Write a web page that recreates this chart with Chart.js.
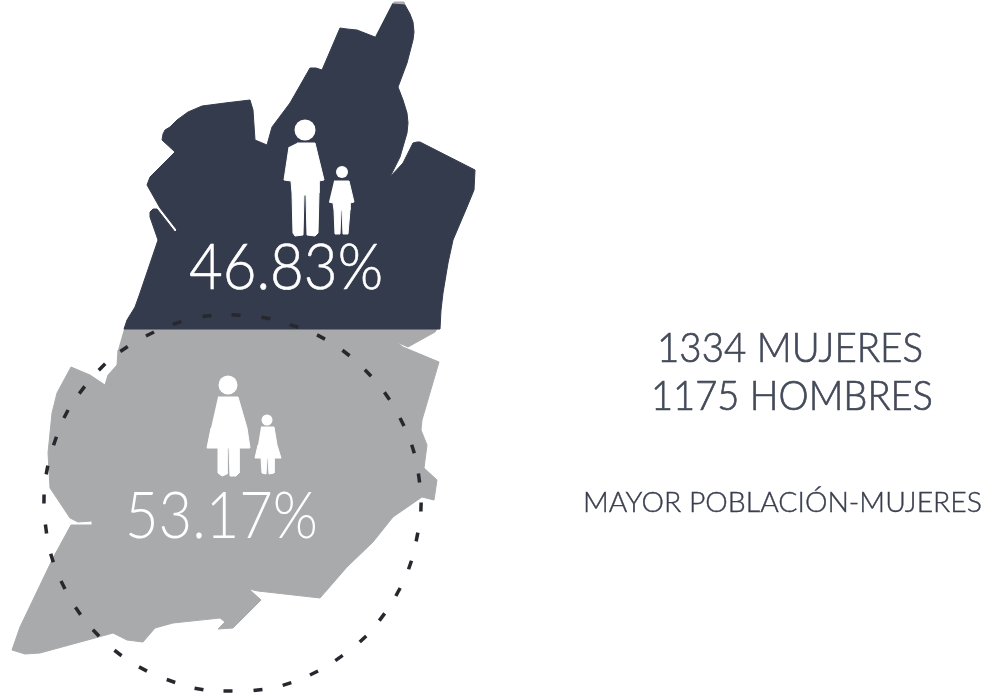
<!DOCTYPE html>
<html lang="es">
<head>
<meta charset="utf-8">
<title>Población por sexo</title>
<script src="https://cdn.jsdelivr.net/npm/chart.js@4"></script>
<style>
  html, body { margin: 0; background: #ffffff; }
  canvas { display: block; }
</style>
</head>
<body>
<canvas id="mapaChart" width="988" height="696"></canvas>
<script>
// Outlines, in picture pixels (scales run 0-988 / 0-696)
const hombresZona = [
  [392,4],[405,5],[410,14],[413,22],[414,32],[413,40],[407,63],[398,87],[403,100],[407,113],[408,123],[407,133],[400,157],[390,177],
  [403,163],[413,143],[417,142],[420,142],[475,170],[474,190],[467,207],[453,240],[448,263],[443,293],
  [441,310],[440,329],[124,329],[127,320],[135,307],[140,293],[158,240],[150,217],[150,212],[153,209],
  [157,209],[175,232],[177,230],[160,208],[147,185],[150,177],[175,152],[162,140],[163,134],[165,130],
  [170,127],[177,120],[188,112],[202,106],[225,103],[250,100],[253,110],[255,140],[267,145],[272,127],[290,103],[310,68],
  [316,68],[322,70],[340,28],[347,29],[357,30],[375,37]
];
const mujeresZona = [
  [124,329],[437,329],[435,332],[408,347],[397,342],[403,347],[439,362],[422,420],[421,430],
  [427,445],[424,468],[437,480],[434,500],[422,497],[393,517],[373,542],[347,567],[320,598],
  [258,591],[249,589],[261,600],[233,628],[218,629],[225,622],[220,618],[173,623],[155,628],
  [143,642],[127,640],[113,633],[95,638],[40,653],[25,654],[12,650],[20,627],[53,558],[71,525],[92,525],
  [92,521],[78,522],[70,518],[60,503],[50,488],[48,453],[52,413],[57,393],[71,367],[90,375],
  [105,385],[108,375],[117,365],[118,350]
];
const puntaGris = [[392,4],[405,5],[404,2],[394,2]];

// Dashes of the circle, clockwise from the top
const circuloTrazos = [
  [207,316],[236,315],[266,318],[294,326],[321,337],[346,353],[368,373],[387,396],[402,422],[413,449],
  [419,478],[421,507],[417,537],[410,565],[398,592],[382,617],[363,639],[339,658],[314,673],[287,684],
  [258,690],[228,691],[199,689],[171,681],[143,669],[118,653],[96,633],[78,611],[63,585],[52,558],
  [46,529],[44,499],[47,470],[55,441],[66,414],[82,390],[102,367],[124,349],[150,334],[177,323]
];

// Figures
const adultoH = [
  [297,143],[315,143],[324,180],[319,181],[319,193],[318,233],[315,236],[307,235],[306,195],[304,195],
  [303,235],[295,236],[293,233],[292,193],[291,181],[284,180],[289,147]
];
const ninoH = [
  [334,181],[349,181],[354,202],[350,203],[350,210],[348,234],[343,234],[342,210],[341,210],[340,234],
  [335,234],[334,210],[333,203],[329,202]
];
const adultaM = [
  [218,397],[238,397],[247,428],[250,448],[239,448],[239,473],[236,476],[230,476],[229,448],[227,448],
  [227,474],[222,476],[218,473],[218,448],[207,448],[211,428]
];
const ninaM = [
  [261,427],[274,427],[277,445],[281,458],[274,458],[274,473],[269,474],[268,458],[267,458],[266,474],
  [262,473],[261,458],[255,458],[258,445]
];
const cabezas = [[305,130],[342,172],[228,385],[267,420]];
const cabezasRadio = [10.5,6,9.5,5.5];

// Texts
const textos = ['46.83%','53.17%','1334 MUJERES','1175 HOMBRES','MAYOR POBLACIÓN-MUJERES'];
const textosX = [189,125,657,651,583];
const textosAncho = [194,193,266,282,399];
const textosBase = [289,538,362,410,512];
const textosTam = [63,65,41,41,28];
const textosTrazo = [0.6,0,0.7,0.7,0.4];
const textosColor = ['#ffffff','#ffffff','#444a59','#444a59','#3a3f4e'];

const COLOR_OSCURO = '#343b4c';
const COLOR_GRIS = '#a9aaac';

function puntos(lista) {
  return lista.map(p => ({ x: p[0], y: p[1] }));
}

function zona(lista, color) {
  return {
    data: puntos(lista),
    showLine: true,
    fill: 'shape',
    backgroundColor: color,
    borderColor: color,
    borderWidth: 1,
    pointRadius: 0,
    tension: 0
  };
}

// Angle of each dash, taken from its neighbours on the circle
function anguloTrazo(ctx) {
  const n = circuloTrazos.length;
  const a = circuloTrazos[(ctx.dataIndex + n - 1) % n];
  const b = circuloTrazos[(ctx.dataIndex + 1) % n];
  return Math.atan2(b[1] - a[1], b[0] - a[0]) * 180 / Math.PI;
}

// Draws the texts on top of the marks, each fitted to the width it has in the picture
const textosPlugin = {
  id: 'textos',
  afterDraw(chart) {
    const { ctx, scales } = chart;
    textos.forEach((t, i) => {
      ctx.save();
      ctx.font = `300 ${textosTam[i]}px Lato, "Open Sans", sans-serif`;
      ctx.fillStyle = textosColor[i];
      ctx.strokeStyle = textosColor[i];
      ctx.lineWidth = textosTrazo[i];
      ctx.textBaseline = 'alphabetic';
      const escala = textosAncho[i] / ctx.measureText(t).width;
      ctx.translate(scales.x.getPixelForValue(textosX[i]), scales.y.getPixelForValue(textosBase[i]));
      ctx.scale(escala, 1);
      ctx.fillText(t, 0, 0);
      if (textosTrazo[i] > 0) ctx.strokeText(t, 0, 0);
      ctx.restore();
    });
  }
};

new Chart(document.getElementById('mapaChart').getContext('2d'), {
  type: 'scatter',
  data: {
    datasets: [
      {
        data: puntos(circuloTrazos),
        pointStyle: 'line',
        pointRadius: 4.5,
        pointBorderWidth: 3.5,
        pointBorderColor: '#26282e',
        pointRotation: anguloTrazo
      },
      {
        data: puntos(cabezas),
        pointStyle: 'circle',
        pointRadius: cabezasRadio,
        pointBackgroundColor: '#ffffff',
        pointBorderWidth: 0
      },
      zona(adultoH, '#ffffff'),
      zona(ninoH, '#ffffff'),
      zona(adultaM, '#ffffff'),
      zona(ninaM, '#ffffff'),
      zona(hombresZona, COLOR_OSCURO),
      zona(mujeresZona, COLOR_GRIS),
      zona(puntaGris, COLOR_GRIS)
    ]
  },
  options: {
    responsive: false,
    animation: false,
    events: [],
    layout: { padding: 0, autoPadding: false },
    clip: false,
    scales: {
      x: { type: 'linear', display: false, min: 0, max: 988 },
      y: { type: 'linear', display: false, min: 0, max: 696, reverse: true }
    },
    plugins: {
      legend: { display: false },
      title: { display: false },
      tooltip: { enabled: false }
    }
  },
  plugins: [textosPlugin]
});
</script>
</body>
</html>
